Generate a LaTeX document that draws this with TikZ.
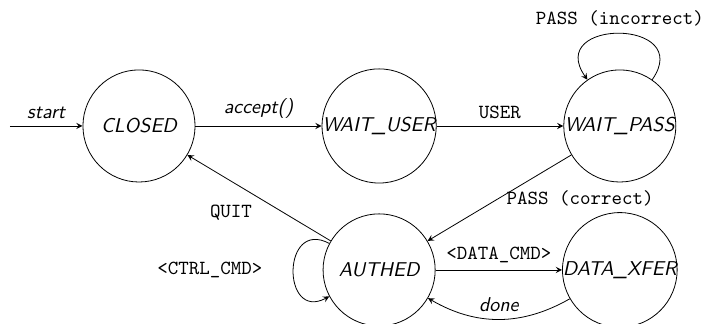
\documentclass[tikz,border=0pt]{standalone}
\usetikzlibrary{arrows,positioning}

\begin{document}
\begin{tikzpicture}[>=stealth,
		st/.style={draw, circle, minimum size=1.97cm, inner sep=0pt, font=\sffamily\itshape},
		cmd/.style={font=\ttfamily},
		sl/.style={font=\sffamily\itshape}]
			\useasboundingbox (-2.443,-3.48) rectangle (9.877,2.214);
			\node[st] (c) at (0,0) {CLOSED};
			\node[st] (wu) at (4.22,0) {WAIT\_USER};
			\node[st] (wp) at (8.45,0) {WAIT\_PASS};
			\node[st] (a) at (4.22,-2.53) {AUTHED};
			\node[st] (x) at (8.45,-2.53) {DATA\_XFER};
			\coordinate (s) at (-2.27,0);
			\draw[->] (s) to node[above, sl] {start} (c);
			\draw[->] (c) to node[above, sl] {accept()} (wu);
			\draw[->] (wu) to node[above, cmd] {USER} (wp);
			\draw[->] (wp) to[out=55, in=125, distance=1.32cm] node[above, cmd] {PASS (incorrect)} (wp);
			\draw[->] (wp) to node[right, cmd] {PASS (correct)} (a);
			\draw[->] (a) to node[below left, cmd] {QUIT} (c);
			\draw[->] (a) to[out=152, in=208, distance=0.95cm] node[left=12pt, cmd] {<CTRL\_CMD>} (a);
			\draw[->] (a) to node[above, cmd] {<DATA\_CMD>} (x);
			\draw[->] (x) to[bend left=30] node[above, sl] {done} (a);
		\end{tikzpicture}
\end{document}
